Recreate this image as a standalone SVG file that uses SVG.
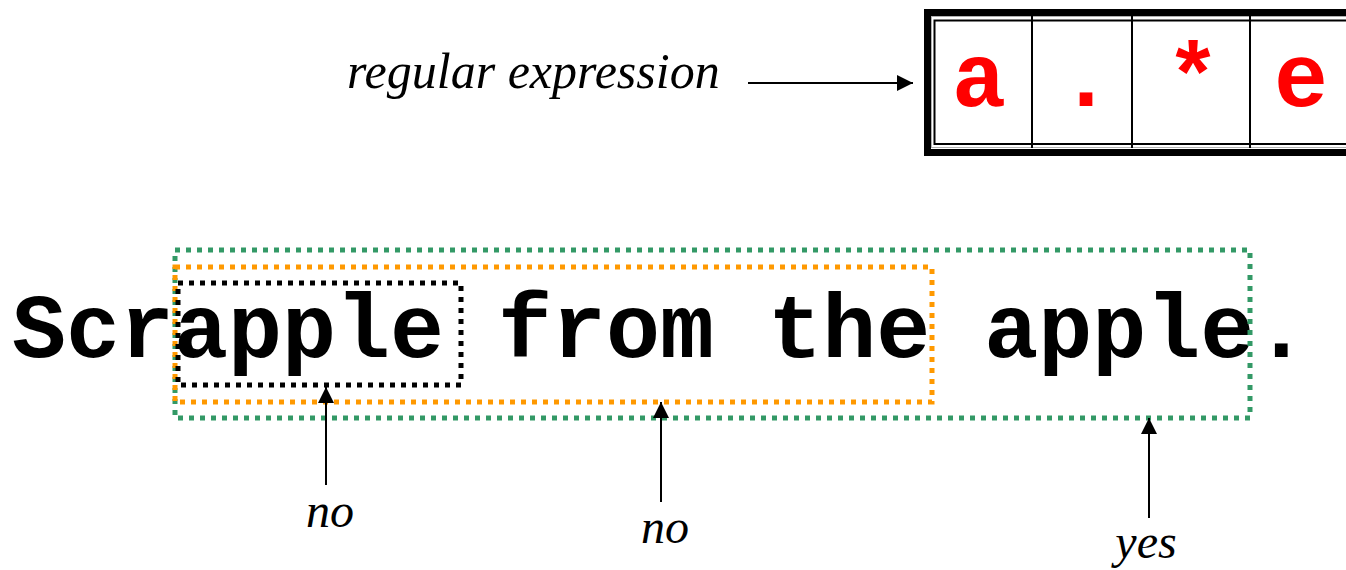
<svg xmlns="http://www.w3.org/2000/svg" width="1346" height="570" viewBox="0 0 1346 570">
  <style>
    .label { font-family: "Liberation Serif", "Times New Roman", serif; font-style: italic; font-size: 48px; fill: #000; }
    .mono { font-family: "Liberation Mono", "Courier New", monospace; font-weight: bold; font-size: 90px; }
    .re { fill: #ff0000; text-anchor: middle; }
    .dot { fill: none; stroke-width: 5; stroke-dasharray: 5 6; }
    .arrow { stroke: #000; stroke-width: 2; fill: none; }
  </style>
  <defs>
    <marker id="head" viewBox="0 0 16 16" refX="16" refY="8" markerWidth="16" markerHeight="16" markerUnits="userSpaceOnUse" orient="auto">
      <path d="M0,0 L16,8 L0,16 Z" fill="#000"/>
    </marker>
  </defs>
  <rect width="1346" height="570" fill="#fff"/>

  <!-- pattern label -->
  <g id="regex-label">
    <text class="label" x="347" y="88" style="font-size:50px">regular expression</text>
  </g>

  <!-- pattern cells: a . * e -->
  <g id="regex-box">
    <rect x="927.5" y="12.5" width="440" height="140" fill="#fff" stroke="#000" stroke-width="7"/>
    <rect x="931.5" y="16.5" width="430" height="131" fill="none" stroke="#b0b0b0" stroke-width="1"/>
    <rect x="934.5" y="20.5" width="430" height="123.5" fill="none" stroke="#000" stroke-width="2"/>
    <line x1="1032" y1="16" x2="1032" y2="148" stroke="#000" stroke-width="2"/>
    <line x1="1132" y1="16" x2="1132" y2="148" stroke="#000" stroke-width="2"/>
    <line x1="1250" y1="16" x2="1250" y2="148" stroke="#000" stroke-width="2"/>
    <text class="mono re" x="979" y="106">a</text>
    <text class="mono re" x="1086" y="106">.</text>
    <text class="mono re" x="1193" y="106">*</text>
    <text class="mono re" x="1301" y="106">e</text>
  </g>

  <!-- subject string -->
  <g id="subject">
    <text class="mono" x="12" y="357" fill="#000">Scrapple from the apple.</text>
  </g>

  <!-- candidate spans -->
  <g id="span-green">
    <rect class="dot" x="175" y="250" width="1075" height="168" stroke="#339966"/>
  </g>
  <g id="span-orange">
    <rect class="dot" x="175" y="267" width="757" height="135" stroke="#ff9900"/>
  </g>
  <g id="span-black">
    <rect class="dot" x="178" y="283" width="283" height="102" stroke="#000"/>
  </g>

  <!-- verdict labels -->
  <g id="verdict-1"><text class="label" x="330" y="527" text-anchor="middle">no</text></g>
  <g id="verdict-2"><text class="label" x="665" y="543" text-anchor="middle">no</text></g>
  <g id="verdict-3"><text class="label" x="1146" y="558" text-anchor="middle">yes</text></g>

  <!-- connectors -->
  <g id="connectors">
    <line class="arrow" x1="748" y1="83" x2="913" y2="83" marker-end="url(#head)"/>
    <line class="arrow" x1="326" y1="485" x2="326" y2="387" marker-end="url(#head)"/>
    <line class="arrow" x1="661" y1="502" x2="661" y2="402" marker-end="url(#head)"/>
    <line class="arrow" x1="1149" y1="518" x2="1149" y2="418" marker-end="url(#head)"/>
  </g>
</svg>
